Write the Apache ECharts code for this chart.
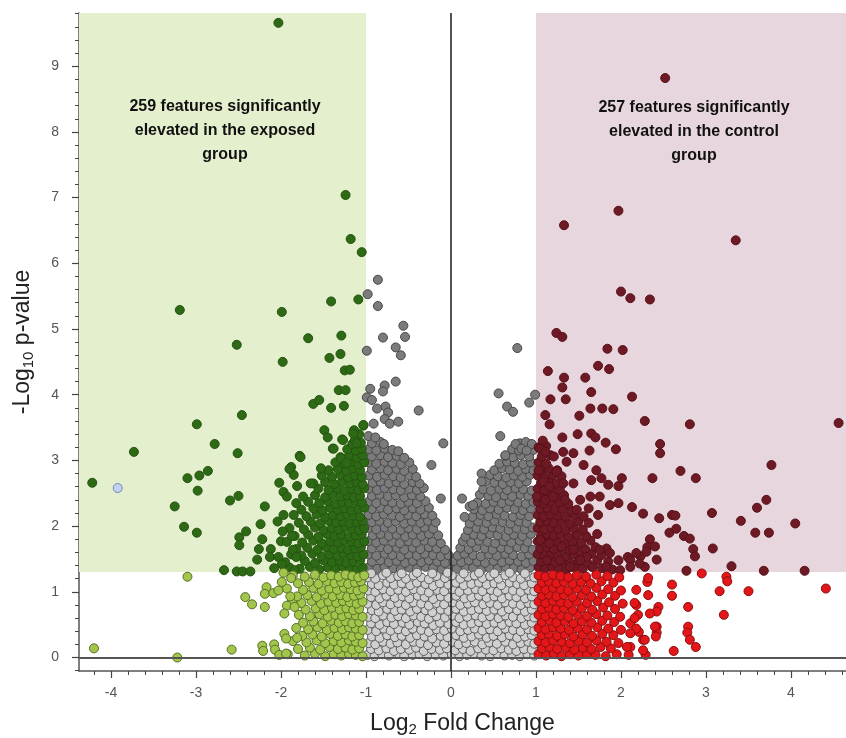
<!DOCTYPE html>
<html><head><meta charset="utf-8">
<script src="https://cdn.jsdelivr.net/npm/echarts@6/dist/echarts.min.js"></script>
<style>html,body{margin:0;padding:0;background:#fff}#c{width:846px;height:738px}</style>
</head><body><div id="c"></div>
<script>
// ---- axis ticks / thresholds ----
const xTicks=[-4,-3,-2,-1,0,1,2,3,4];
const yTicks=[0,1,2,3,4,5,6,7,8,9];
const fcThreshold=1, pThreshold=1.3;
const xMin=-4.376, xMax=4.647, yMin=-0.205, yMax=9.81;
const leftNote='259 features significantly\nelevated in the exposed\ngroup';
const rightNote='257 features significantly\nelevated in the control\ngroup';

// ---- data: [log2FC, -log10 p] ----
const darkGreenSparse=[[-2.03,9.66],[-1.24,7.04],[-1.18,6.37],[-1.05,6.17],[-3.19,5.29],[-1.99,5.26],[-1.41,5.42],[-1.09,5.45],[-2.52,4.76],[-1.68,4.86],[-1.29,4.9],[-1.98,4.5],[-1.43,4.56],[-1.3,4.62],[-1.25,4.37],[-1.19,4.38],[-1.32,4.07],[-1.24,4.07],[-1.62,3.86],[-1.55,3.92],[-1.41,3.8],[-1.26,3.83],[-2.46,3.69],[-1.49,3.46],[-1.45,3.35],[-1.14,3.46],[-1.03,3.53],[-1.13,3.31],[-1.28,3.32],[-1.39,3.18],[-1.78,3.07],[-4.22,2.66],[-3.73,3.13],[-2.51,3.11],[-3.1,2.73],[-2.96,2.77],[-2.86,2.84],[-2.98,2.54],[-3.25,2.3],[-3.14,1.99],[-2.99,1.9],[-2.6,2.39],[-2.5,2.46],[-2.49,1.83],[-2.41,1.92],[-2.49,1.71],[-2.67,1.33],[-2.52,1.31],[-2.45,1.31],[-2.36,1.31],[-2.19,2.3],[-2.24,2.03],[-2.22,1.8],[-2.26,1.65],[-2.28,1.49],[-2.02,2.66],[-1.97,2.52],[-1.93,2.45],[-1.88,2.9],[-1.85,2.78],[-1.81,2.61],[-1.82,2.35],[-2.04,2.07],[-1.97,2.17],[-1.98,1.92],[-1.93,1.76],[-1.87,1.85],[-2.12,1.65],[-2.13,1.53],[-2.03,1.53],[-1.99,1.42],[-2.08,1.36],[-1.86,1.64],[-1.82,1.53],[-1.84,1.33],[-2.78,3.25],[-2.99,3.55],[-1.77,3.05],[-1.9,2.87],[-1.65,2.65],[-1.53,2.88],[-1.38,3.18],[-1.29,3.03],[-1.23,2.96],[-1.15,3.41],[-1.11,3.26],[-1.03,3.54],[-1.27,3.31]];
const darkGreenDense=[[-1.9,1.37],[-1.78,1.35],[-1.66,1.38],[-1.55,1.34],[-1.45,1.37],[-1.36,1.35],[-1.27,1.38],[-1.19,1.36],[-1.11,1.34],[-1.04,1.37],
[-1.95,1.45],[-1.72,1.47],[-1.6,1.44],[-1.5,1.48],[-1.4,1.45],[-1.31,1.47],[-1.23,1.44],[-1.15,1.46],[-1.07,1.48],
[-1.88,1.57],[-1.76,1.55],[-1.63,1.58],[-1.52,1.54],[-1.43,1.57],[-1.34,1.55],[-1.26,1.58],[-1.18,1.56],[-1.1,1.54],[-1.03,1.57],
[-1.82,1.65],[-1.69,1.67],[-1.57,1.64],[-1.47,1.68],[-1.38,1.65],[-1.29,1.67],[-1.21,1.64],[-1.13,1.66],[-1.06,1.68],
[-2,1.77],[-1.75,1.75],[-1.62,1.78],[-1.52,1.74],[-1.42,1.77],[-1.33,1.75],[-1.25,1.78],[-1.17,1.76],[-1.09,1.74],[-1.02,1.77],
[-1.84,1.85],[-1.68,1.87],[-1.56,1.84],[-1.46,1.88],[-1.37,1.85],[-1.29,1.87],[-1.2,1.84],[-1.12,1.86],[-1.05,1.88],
[-1.9,1.97],[-1.73,1.95],[-1.6,1.98],[-1.5,1.94],[-1.4,1.97],[-1.32,1.95],[-1.24,1.98],[-1.16,1.96],[-1.08,1.94],[-1.02,1.97],
[-1.79,2.05],[-1.65,2.07],[-1.54,2.04],[-1.44,2.08],[-1.35,2.05],[-1.27,2.07],[-1.19,2.04],[-1.11,2.06],[-1.04,2.08],
[-1.85,2.17],[-1.7,2.15],[-1.58,2.18],[-1.48,2.14],[-1.39,2.17],[-1.3,2.15],[-1.22,2.18],[-1.14,2.16],[-1.07,2.14],
[-1.76,2.25],[-1.62,2.27],[-1.51,2.24],[-1.42,2.28],[-1.33,2.25],[-1.25,2.27],[-1.17,2.24],[-1.09,2.26],[-1.02,2.28],
[-1.68,2.37],[-1.55,2.35],[-1.45,2.38],[-1.36,2.34],[-1.28,2.37],[-1.2,2.35],[-1.12,2.38],[-1.05,2.36],
[-1.74,2.45],[-1.6,2.47],[-1.48,2.44],[-1.39,2.48],[-1.3,2.45],[-1.22,2.47],[-1.14,2.44],[-1.07,2.46],
[-1.56,2.57],[-1.44,2.55],[-1.34,2.58],[-1.25,2.54],[-1.17,2.57],[-1.09,2.55],[-1.02,2.58],
[-1.62,2.65],[-1.48,2.67],[-1.37,2.64],[-1.28,2.68],[-1.19,2.65],[-1.11,2.67],[-1.04,2.64],
[-1.52,2.77],[-1.4,2.75],[-1.3,2.78],[-1.21,2.74],[-1.13,2.77],[-1.05,2.75],
[-1.44,2.85],[-1.33,2.87],[-1.23,2.84],[-1.15,2.88],[-1.07,2.85],
[-1.36,2.97],[-1.26,2.95],[-1.17,2.98],[-1.09,2.94],[-1.02,2.97],
[-1.3,3.05],[-1.2,3.07],[-1.11,3.04],[-1.04,3.08],[-1.22,3.17],[-1.12,3.15],[-1.05,3.18],[-1.16,3.25],[-1.06,3.27],[-1.08,3.4]];
const lightGreenSparse=[[-4.2,.14],[-3.22,0],[-3.1,1.23],[-2.58,.12],[-2.42,.92],[-2.34,.81],[-2.19,.77],[-2.17,1.07],[-2.19,.97],[-2.09,.98],[-2.03,1.02],[-2.22,.18],[-2.21,.1],[-2.08,.2],[-2.07,.12],[-2.02,.04],[-1.94,.06],[-1.96,.36],[-1.94,.29],[-1.81,.3],[-1.99,1.15],[-1.97,1.29],[-1.88,1.21],[-1.89,.93],[-1.93,.79],[-1.96,.67],[-1.84,.77]];
const lightGreenDense=[[-1.92,.05],[-1.72,.03],[-1.6,.06],[-1.48,.02],[-1.38,.05],[-1.29,.03],[-1.2,.06],[-1.12,.04],[-1.04,.02],
[-1.8,.13],[-1.66,.15],[-1.54,.12],[-1.43,.16],[-1.33,.13],[-1.24,.15],[-1.16,.12],[-1.08,.14],
[-1.86,.25],[-1.7,.23],[-1.58,.26],[-1.48,.22],[-1.38,.25],[-1.29,.23],[-1.2,.26],[-1.12,.24],[-1.04,.22],
[-1.75,.33],[-1.63,.35],[-1.52,.32],[-1.42,.36],[-1.33,.33],[-1.24,.35],[-1.16,.32],[-1.08,.34],
[-1.82,.45],[-1.68,.43],[-1.57,.46],[-1.46,.42],[-1.37,.45],[-1.28,.43],[-1.2,.46],[-1.12,.44],[-1.04,.42],
[-1.74,.53],[-1.62,.55],[-1.51,.52],[-1.41,.56],[-1.32,.53],[-1.24,.55],[-1.16,.52],[-1.08,.54],
[-1.79,.65],[-1.66,.63],[-1.55,.66],[-1.45,.62],[-1.36,.65],[-1.28,.63],[-1.2,.66],[-1.12,.64],[-1.04,.62],
[-1.71,.73],[-1.59,.75],[-1.49,.72],[-1.4,.76],[-1.31,.73],[-1.23,.75],[-1.15,.72],[-1.08,.74],
[-1.87,.85],[-1.76,.83],[-1.64,.86],[-1.53,.82],[-1.44,.85],[-1.35,.83],[-1.27,.86],[-1.19,.84],[-1.11,.82],[-1.04,.85],
[-1.81,.93],[-1.69,.95],[-1.58,.92],[-1.48,.96],[-1.39,.93],[-1.3,.95],[-1.22,.92],[-1.14,.94],[-1.07,.96],
[-1.93,1.05],[-1.74,1.03],[-1.62,1.06],[-1.52,1.02],[-1.43,1.05],[-1.34,1.03],[-1.26,1.06],[-1.18,1.04],[-1.1,1.02],[-1.03,1.05],
[-1.8,1.13],[-1.67,1.15],[-1.56,1.12],[-1.46,1.16],[-1.37,1.13],[-1.29,1.15],[-1.21,1.12],[-1.13,1.14],[-1.06,1.16],
[-1.86,1.25],[-1.72,1.23],[-1.6,1.26],[-1.5,1.22],[-1.41,1.25],[-1.32,1.23],[-1.24,1.26],[-1.16,1.24],[-1.09,1.22],[-1.02,1.25]];
const darkGreySparse=[[-.86,5.75],[-.98,5.53],[-.86,5.35],[-.56,5.05],[-.54,4.88],[-.8,4.87],[-.99,4.67],[-.65,4.72],[-.59,4.6],[-.65,4.2],[-.78,4.14],[-.8,4.05],[-.95,4.09],[-.99,3.96],[-.93,3.92],[-.87,3.79],[-.77,3.82],[-.74,3.73],[-.78,3.63],[-.72,3.56],[-.62,3.59],[-.38,3.76],[-.91,3.56],[-.09,3.26],[-.23,2.93],[-.12,2.42],[.78,4.71],[.56,4.02],[.99,4],[.92,3.88],[.66,3.82],[.73,3.74],[.58,3.37],[.76,3.25],[.83,3.18],[.89,3.15],[.64,3.08],[.36,2.8],[.36,2.68],[.13,2.42],[.16,2.14],[.22,2.3],[.26,2.32]];
const darkGreyDense=[[-.97,1.37],[-.87,1.35],[-.78,1.38],[-.68,1.36],[-.59,1.34],[-.49,1.37],[-.4,1.35],[-.3,1.38],[-.21,1.36],[-.11,1.34],[-.02,1.37],[.07,1.35],[.17,1.38],[.26,1.36],[.36,1.34],[.45,1.37],[.55,1.35],[.64,1.38],[.74,1.36],[.83,1.34],[.93,1.37],
[-.93,1.46],[-.83,1.48],[-.73,1.45],[-.64,1.47],[-.54,1.44],[-.45,1.47],[-.35,1.45],[-.26,1.48],[-.16,1.46],[-.07,1.44],[.03,1.47],[.12,1.45],[.21,1.48],[.31,1.46],[.4,1.44],[.5,1.47],[.6,1.45],[.69,1.48],[.79,1.46],[.88,1.44],[.97,1.47],
[-.97,1.57],[-.88,1.55],[-.78,1.58],[-.69,1.56],[-.59,1.54],[-.5,1.57],[-.4,1.55],[-.31,1.58],[-.21,1.56],[-.12,1.54],[-.03,1.56],[.08,1.55],[.16,1.58],[.26,1.56],[.35,1.54],[.45,1.57],[.54,1.55],[.64,1.58],[.73,1.56],[.83,1.54],[.92,1.57],
[-.93,1.66],[-.83,1.68],[-.74,1.65],[-.64,1.67],[-.55,1.64],[-.45,1.67],[-.36,1.65],[-.26,1.68],[-.17,1.66],[-.07,1.64],[.11,1.67],[.21,1.65],[.3,1.68],[.4,1.66],[.49,1.64],[.59,1.67],[.68,1.65],[.78,1.68],[.87,1.66],[.96,1.64],
[-.97,1.77],[-.88,1.75],[-.79,1.78],[-.69,1.76],[-.6,1.74],[-.5,1.77],[-.41,1.75],[-.31,1.78],[-.22,1.76],[-.12,1.74],[.14,1.77],[.24,1.75],[.33,1.78],[.43,1.76],[.52,1.74],[.62,1.77],[.71,1.75],[.81,1.78],[.9,1.76],
[-.92,1.86],[-.83,1.88],[-.73,1.85],[-.64,1.87],[-.54,1.84],[-.45,1.87],[-.35,1.85],[-.26,1.88],[-.15,1.86],[.17,1.84],[.27,1.87],[.36,1.85],[.46,1.88],[.55,1.86],[.65,1.84],[.74,1.87],[.84,1.85],[.94,1.88],
[-.97,1.97],[-.88,1.95],[-.78,1.98],[-.69,1.96],[-.59,1.94],[-.5,1.97],[-.4,1.95],[-.31,1.98],[-.21,1.96],[.2,1.94],[.3,1.97],[.39,1.95],[.49,1.98],[.58,1.96],[.68,1.94],[.77,1.97],[.87,1.95],[.96,1.98],
[-.93,2.06],[-.84,2.08],[-.74,2.05],[-.65,2.07],[-.55,2.04],[-.46,2.07],[-.36,2.05],[-.27,2.08],[-.18,2.06],[.22,2.04],[.32,2.07],[.42,2.05],[.51,2.08],[.61,2.06],[.7,2.04],[.8,2.07],[.89,2.05],
[-.97,2.17],[-.88,2.15],[-.79,2.18],[-.69,2.16],[-.6,2.14],[-.5,2.17],[-.41,2.15],[-.31,2.18],[-.22,2.16],[.25,2.14],[.35,2.17],[.44,2.15],[.54,2.18],[.63,2.16],[.73,2.14],[.82,2.17],[.92,2.15],
[-.93,2.26],[-.83,2.28],[-.74,2.25],[-.64,2.27],[-.55,2.24],[-.45,2.27],[-.36,2.25],[-.26,2.28],[.27,2.26],[.37,2.24],[.46,2.27],[.56,2.25],[.66,2.28],[.75,2.26],[.85,2.24],[.94,2.27],
[-.97,2.37],[-.88,2.35],[-.78,2.38],[-.69,2.36],[-.59,2.34],[-.5,2.37],[-.4,2.35],[-.3,2.38],[.31,2.36],[.41,2.34],[.5,2.37],[.6,2.35],[.69,2.38],[.79,2.36],[.88,2.34],[.97,2.37],
[-.93,2.46],[-.84,2.48],[-.74,2.45],[-.65,2.47],[-.55,2.44],[-.46,2.47],[-.36,2.45],[.34,2.48],[.44,2.46],[.53,2.44],[.63,2.47],[.72,2.45],[.82,2.48],[.91,2.46],
[-.97,2.57],[-.87,2.55],[-.78,2.58],[-.68,2.56],[-.59,2.54],[-.49,2.57],[-.4,2.55],[-.32,2.58],[.38,2.56],[.47,2.54],[.57,2.57],[.66,2.55],[.76,2.58],[.85,2.56],[.95,2.54],
[-.92,2.66],[-.83,2.68],[-.73,2.65],[-.64,2.67],[-.55,2.64],[-.45,2.67],[-.37,2.65],[.42,2.68],[.51,2.66],[.61,2.64],[.7,2.67],[.8,2.65],[.89,2.68],
[-.97,2.77],[-.87,2.75],[-.78,2.78],[-.68,2.76],[-.59,2.74],[-.49,2.77],[-.41,2.75],[.46,2.78],[.55,2.76],[.65,2.74],[.74,2.77],[.84,2.75],[.93,2.78],
[-.93,2.86],[-.83,2.88],[-.74,2.85],[-.64,2.87],[-.55,2.84],[-.45,2.87],[.51,2.85],[.6,2.88],[.69,2.86],[.79,2.84],[.88,2.87],[.97,2.85],
[-.97,2.97],[-.88,2.95],[-.78,2.98],[-.69,2.96],[-.59,2.94],[-.49,2.97],[.57,2.95],[.66,2.98],[.75,2.96],[.85,2.94],[.94,2.97],
[-.93,3.06],[-.83,3.08],[-.74,3.05],[-.64,3.07],[-.55,3.04],[.64,3.07],[.73,3.05],[.82,3.08],[.92,3.06],
[-.97,3.17],[-.88,3.15],[-.78,3.18],[-.69,3.16],[-.62,3.14],[.72,3.17],[.8,3.15],[.89,3.18],[.97,3.16],
[-.93,3.26],[-.83,3.28],[-.79,3.25],[.81,3.26],[.88,3.28],[.95,3.25],[-.97,3.37],[-.89,3.35]];
const lightGrey=[[-.98,.04],[-.9,.02],[-.81,.05],[-.73,.03],[-.62,.06],[-.55,.02],[-.45,.04],[-.37,.05],[-.28,.02],[-.18,.04],[-.09,.03],[.01,.05],[.1,.02],[.19,.04],[.27,.06],[.36,.03],[.46,.02],[.55,.05],[.63,.03],[.72,.04],[.81,.02],[.9,.05],[.98,.03],
[-.94,.13],[-.85,.11],[-.76,.14],[-.67,.1],[-.59,.13],[-.49,.12],[-.41,.15],[-.32,.1],[-.23,.13],[-.13,.12],[-.05,.14],[.05,.11],[.14,.13],[.23,.1],[.32,.14],[.41,.12],[.5,.11],[.59,.14],[.68,.12],[.77,.1],[.86,.13],[.95,.12],
[-.97,.22],[-.89,.2],[-.8,.24],[-.71,.21],[-.63,.23],[-.53,.2],[-.44,.24],[-.36,.22],[-.27,.19],[-.17,.23],[-.08,.21],[.02,.24],[.09,.2],[.18,.22],[.28,.24],[.37,.2],[.45,.23],[.54,.21],[.64,.24],[.73,.2],[.82,.22],[.91,.24],[.98,.21],
[-.93,.32],[-.84,.3],[-.75,.34],[-.66,.31],[-.58,.33],[-.48,.3],[-.4,.34],[-.31,.32],[-.22,.29],[-.12,.33],[-.04,.31],[.06,.34],[.15,.3],[.24,.32],[.33,.35],[.42,.3],[.5,.33],[.6,.31],[.69,.34],[.78,.3],[.87,.32],[.95,.34],
[-.98,.42],[-.88,.4],[-.79,.44],[-.71,.41],[-.62,.43],[-.53,.4],[-.45,.44],[-.35,.42],[-.26,.39],[-.17,.43],[-.08,.41],[.01,.44],[.11,.4],[.2,.42],[.28,.44],[.37,.41],[.46,.43],[.55,.4],[.64,.44],[.73,.42],[.82,.4],[.91,.43],[.98,.41],
[-.94,.52],[-.84,.5],[-.75,.54],[-.67,.51],[-.57,.53],[-.49,.5],[-.39,.54],[-.31,.52],[-.21,.49],[-.13,.53],[-.03,.51],[.06,.54],[.15,.5],[.24,.52],[.33,.54],[.42,.51],[.51,.53],[.6,.5],[.69,.54],[.77,.52],[.87,.5],[.95,.53],
[-.97,.62],[-.89,.6],[-.8,.64],[-.7,.61],[-.62,.63],[-.53,.6],[-.44,.64],[-.35,.62],[-.26,.59],[-.17,.63],[-.07,.61],[.02,.64],[.1,.6],[.19,.62],[.29,.64],[.37,.61],[.46,.63],[.56,.6],[.64,.64],[.73,.62],[.83,.6],[.91,.63],[.98,.61],
[-.93,.72],[-.85,.7],[-.75,.74],[-.66,.71],[-.58,.73],[-.48,.7],[-.4,.74],[-.3,.72],[-.22,.69],[-.12,.73],[-.03,.71],[.06,.74],[.15,.7],[.24,.72],[.33,.74],[.42,.71],[.51,.73],[.6,.7],[.68,.74],[.78,.72],[.87,.7],[.95,.73],
[-.98,.82],[-.88,.8],[-.8,.84],[-.71,.81],[-.62,.83],[-.53,.8],[-.44,.84],[-.35,.82],[-.26,.79],[-.17,.83],[-.08,.81],[.02,.84],[.11,.8],[.2,.82],[.28,.84],[.38,.81],[.46,.83],[.55,.8],[.64,.84],[.73,.82],[.82,.8],[.91,.83],[.98,.81],
[-.94,.92],[-.84,.9],[-.76,.94],[-.66,.91],[-.57,.93],[-.49,.9],[-.39,.94],[-.31,.92],[-.21,.89],[-.12,.93],[-.03,.91],[.06,.94],[.16,.9],[.24,.92],[.33,.94],[.42,.91],[.51,.93],[.6,.9],[.69,.94],[.77,.92],[.87,.9],[.95,.93],
[-.97,1.02],[-.89,1],[-.8,1.04],[-.71,1.01],[-.62,1.03],[-.53,1],[-.44,1.04],[-.35,1.02],[-.26,.99],[-.16,1.03],[-.08,1.01],[.02,1.04],[.1,1],[.2,1.02],[.29,1.04],[.37,1.01],[.47,1.03],[.55,1],[.64,1.04],[.73,1.02],[.82,1],[.91,1.03],[.98,1.01],
[-.93,1.12],[-.85,1.1],[-.75,1.14],[-.67,1.11],[-.58,1.13],[-.48,1.1],[-.4,1.14],[-.3,1.12],[-.21,1.09],[-.13,1.13],[-.03,1.11],[.06,1.14],[.15,1.1],[.24,1.12],[.33,1.14],[.42,1.11],[.51,1.13],[.59,1.1],[.69,1.14],[.78,1.12],[.86,1.1],[.95,1.13],
[-.98,1.22],[-.89,1.2],[-.8,1.25],[-.71,1.21],[-.62,1.24],[-.53,1.2],[-.44,1.25],[-.35,1.22],[-.26,1.19],[-.17,1.24],[-.07,1.21],[.01,1.25],[.11,1.2],[.2,1.23],[.28,1.25],[.37,1.21],[.46,1.24],[.56,1.2],[.64,1.25],[.73,1.22],[.82,1.2],[.91,1.24],[.98,1.22],
[-.94,1.28],[-.76,1.29],[-.58,1.28],[-.4,1.29],[-.22,1.28],[-.04,1.29],[.15,1.28],[.33,1.29],[.51,1.28],[.69,1.29],[.87,1.28]];
const darkRedSparse=[[2.52,8.82],[1.97,6.8],[1.33,6.58],[3.35,6.35],[2,5.57],[2.11,5.47],[2.34,5.45],[1.24,4.94],[1.31,4.88],[1.84,4.7],[2.02,4.68],[1.73,4.44],[1.86,4.39],[1.14,4.36],[1.33,4.26],[1.58,4.26],[1.31,4.11],[1.65,4.04],[2.13,3.97],[1.17,3.93],[1.35,3.93],[1.64,3.79],[1.78,3.79],[1.91,3.78],[4.56,3.57],[3.77,2.93],[3.71,2.4],[3.6,2.28],[3.41,2.08],[4.05,2.04],[3.58,1.9],[3.74,1.9],[3.07,2.2],[3.08,1.66],[3.3,1.39],[3.68,1.32],[4.16,1.32],[2.77,1.32],[2.46,3.25],[2.46,3.11],[2.7,2.84],[2.88,2.73],[2.37,2.73],[2.6,2.17],[2.64,2.16],[2.57,1.9],[2.65,1.96],[2.74,1.85],[2.81,1.81],[2.85,1.65],[2.87,1.54],[2.45,2.12],[2.26,2.19],[2.13,2.29],[2.34,1.8],[2.31,1.68],[2.42,1.49],[2.23,1.54],[2.28,1.38],[2.08,1.53],[1.11,3.69],[1.16,3.55],[1.51,3.68],[2.28,3.6],[2.81,3.55],[1.31,3.35],[1.49,3.4],[1.65,3.41],[1.7,3.35],[1.82,3.27],[1.94,3.17],[1.63,3.15],[1.05,3.18],[1.11,3.13],[1.21,3.06],[1.32,3.13],[1.44,3.11],[1.56,2.93],[1.36,2.98],[1.71,2.85],[1.77,2.73],[1.65,2.7],[1.85,2.63],[1.97,2.61],[2.01,2.73],[1.03,2.85],[1.24,2.83],[1.09,2.68],[1.16,2.6],[1.32,2.65],[1.44,2.65],[1.01,2.45],[1.11,2.4],[1.2,2.45],[1.34,2.4],[1.52,2.4],[1.64,2.45],[1.75,2.45],[1.48,2.25],[1.62,2.27],[1.73,2.17],[1.87,2.32],[1.97,2.35],[2.4,1.69],[2.3,1.61],[2.18,1.59],[2.11,1.48],[1.97,1.48],[1.87,1.59],[1.75,1.64],[1.6,1.53],[1.44,1.64],[1.3,1.69],[1.16,1.74],[1.05,1.79],[1.13,1.48],[1.28,1.48],[1.4,1.38],[1.52,1.48],[1.67,1.38],[1.83,1.38],[1.99,1.33],[2.11,1.38],[2.22,1.43]];
const darkRedDense=[[1.03,1.37],[1.11,1.35],[1.19,1.38],[1.27,1.36],[1.36,1.34],[1.45,1.37],[1.55,1.35],[1.66,1.38],[1.78,1.36],[1.9,1.34],
[1.06,1.46],[1.14,1.48],[1.22,1.45],[1.31,1.47],[1.4,1.44],[1.5,1.47],[1.6,1.45],[1.72,1.48],[1.85,1.46],
[1.02,1.57],[1.1,1.55],[1.18,1.58],[1.26,1.56],[1.35,1.54],[1.44,1.57],[1.54,1.55],[1.65,1.58],[1.77,1.56],
[1.05,1.66],[1.13,1.68],[1.21,1.65],[1.3,1.67],[1.39,1.64],[1.48,1.67],[1.58,1.65],[1.7,1.68],[1.83,1.66],
[1.02,1.77],[1.09,1.75],[1.17,1.78],[1.25,1.76],[1.34,1.74],[1.43,1.77],[1.53,1.75],[1.64,1.78],
[1.06,1.86],[1.13,1.88],[1.21,1.85],[1.29,1.87],[1.38,1.84],[1.48,1.87],[1.59,1.85],[1.72,1.88],
[1.02,1.97],[1.1,1.95],[1.18,1.98],[1.26,1.96],[1.35,1.94],[1.44,1.97],[1.55,1.95],
[1.05,2.06],[1.13,2.08],[1.21,2.05],[1.3,2.07],[1.4,2.04],[1.5,2.07],[1.62,2.05],
[1.02,2.17],[1.09,2.15],[1.17,2.18],[1.26,2.16],[1.35,2.14],[1.45,2.17],[1.56,2.15],
[1.05,2.26],[1.13,2.28],[1.22,2.25],[1.31,2.27],[1.41,2.24],
[1.02,2.37],[1.09,2.35],[1.18,2.38],[1.27,2.36],[1.38,2.34],
[1.05,2.46],[1.14,2.48],[1.23,2.45],[1.33,2.47],
[1.02,2.57],[1.1,2.55],[1.19,2.58],[1.28,2.56],
[1.06,2.66],[1.15,2.68],[1.24,2.65],
[1.02,2.77],[1.1,2.75],[1.2,2.78],[1.3,2.76],
[1.06,2.86],[1.15,2.88],[1.25,2.85],
[1.03,2.97],[1.12,2.95],[1.07,3.06],[1.17,3.08],[1.03,3.2],[1.12,3.22],[1.08,3.3]];
const redSparse=[[4.41,1.05],[3.5,1.01],[3.16,1.01],[3.24,1.23],[3.25,1.16],[3.21,.65],[2.6,1.11],[2.6,.94],[2.79,.77],[2.79,.47],[2.78,.38],[2.81,.27],[2.88,.16],[2.62,.1],[2.95,1.28],[2.44,.77],[2.42,.7],[2.34,.67],[2.42,.47],[2.42,.38],[2.26,.27],[2.29,.04],[2.26,.11],[2.11,.16],[2.09,.04],[2.32,.95],[2.31,1.15],[2.18,1.03],[2.18,.8],[2.2,.65],[2.11,.52],[2.21,.39],[2.32,1.21],[2.4,.47],[2.41,.32],[2.28,.27],[2.16,.83],[2.16,.6],[2.18,.44],[2.11,.37],[2.07,.16]];
const redDense=[[1.03,.05],[1.12,.03],[1.21,.06],[1.3,.02],[1.4,.05],[1.5,.03],[1.6,.06],[1.7,.04],[1.82,.02],[1.95,.05],
[1.07,.14],[1.16,.16],[1.25,.13],[1.35,.15],[1.45,.12],[1.55,.15],[1.65,.13],[1.76,.16],[1.88,.14],
[1.03,.25],[1.11,.23],[1.2,.26],[1.3,.24],[1.4,.22],[1.5,.25],[1.6,.23],[1.71,.26],[1.83,.24],[1.97,.22],
[1.07,.34],[1.15,.36],[1.25,.33],[1.34,.35],[1.44,.32],[1.55,.35],[1.66,.33],[1.78,.36],[1.91,.34],
[1.03,.45],[1.11,.43],[1.2,.46],[1.29,.44],[1.39,.42],[1.49,.45],[1.6,.43],[1.72,.46],[1.85,.44],[2,.42],
[1.07,.54],[1.16,.56],[1.24,.53],[1.34,.55],[1.44,.52],[1.54,.55],[1.65,.53],[1.78,.56],[1.92,.54],
[1.03,.65],[1.11,.63],[1.2,.66],[1.29,.64],[1.38,.62],[1.49,.65],[1.6,.63],[1.71,.66],[1.84,.64],[1.99,.62],
[1.07,.74],[1.15,.76],[1.24,.73],[1.33,.75],[1.43,.72],[1.54,.75],[1.66,.73],[1.79,.76],[1.93,.74],
[1.03,.85],[1.11,.83],[1.2,.86],[1.29,.84],[1.38,.82],[1.48,.85],[1.6,.83],[1.72,.86],[1.86,.84],[2.02,.82],
[1.07,.94],[1.15,.96],[1.24,.93],[1.33,.95],[1.43,.92],[1.54,.95],[1.65,.93],[1.78,.96],[1.93,.94],
[1.03,1.05],[1.11,1.03],[1.2,1.06],[1.29,1.04],[1.38,1.02],[1.48,1.05],[1.59,1.03],[1.71,1.06],[1.85,1.04],[2,1.02],
[1.07,1.14],[1.15,1.16],[1.24,1.13],[1.33,1.15],[1.43,1.12],[1.53,1.15],[1.64,1.13],[1.77,1.16],[1.91,1.14],
[1.03,1.25],[1.11,1.23],[1.2,1.26],[1.29,1.24],[1.38,1.22],[1.48,1.25],[1.59,1.23],[1.71,1.26],[1.84,1.24],[1.98,1.22]];
const bluePoint=[[-3.92,2.58]];

// ---- decoration: minor tick positions every 0.2 ----
const xMinor=[], yMinor=[];
for(let i=-21;i<=23;i++) xMinor.push(+(i*0.2).toFixed(1));
for(let i=-1;i<=49;i++) yMinor.push(+(i*0.2).toFixed(1));

const FONT='"Liberation Sans", Arial, sans-serif';
function pts(name,data,fill,stroke){
  return {type:'scatter',name:name,data:data,symbol:'circle',symbolSize:9,silent:true,z:3,
    itemStyle:{color:fill,borderColor:stroke,borderWidth:1,opacity:1},emphasis:{disabled:true}};
}
const chart=echarts.init(document.getElementById('c'),null,{renderer:'canvas'});
chart.setOption({
  animation:false,
  backgroundColor:'#ffffff',
  grid:{left:79,top:13,width:767,height:658,containLabel:false,outerBoundsMode:'none'},
  xAxis:[{
    type:'value',min:xMin,max:xMax,splitLine:{show:false},
    axisLine:{onZero:false,lineStyle:{color:'#555',width:1.5}},
    axisTick:{customValues:xTicks,length:7,lineStyle:{color:'#444',width:1.2}},
    axisLabel:{customValues:xTicks,color:'#555',fontSize:14,margin:15,fontFamily:FONT},
    name:'{a|Log}{s|2}{a| Fold Change}',nameLocation:'middle',nameGap:39,
    nameTextStyle:{rich:{a:{fontSize:23,color:'#222',fontFamily:FONT},s:{fontSize:15,color:'#222',fontFamily:FONT,padding:[12,0,0,0]}}}
  },{
    type:'value',min:xMin,max:xMax,position:'bottom',splitLine:{show:false},
    axisLine:{show:false,onZero:false},axisLabel:{show:false},
    axisTick:{customValues:xMinor,length:4,lineStyle:{color:'#444',width:1}}
  }],
  yAxis:[{
    type:'value',min:yMin,max:yMax,splitLine:{show:false},
    axisLine:{onZero:false,lineStyle:{color:'#555',width:1.5}},
    axisTick:{customValues:yTicks,length:7,lineStyle:{color:'#444',width:1.2}},
    axisLabel:{customValues:yTicks,color:'#555',fontSize:14,margin:20,fontFamily:FONT},
    name:'{a|-Log}{s|10}{a| p-value}',nameLocation:'middle',nameGap:43,nameRotate:90,
    nameTextStyle:{rich:{a:{fontSize:23,color:'#222',fontFamily:FONT},s:{fontSize:15,color:'#222',fontFamily:FONT,padding:[12,0,0,0]}}}
  },{
    type:'value',min:yMin,max:yMax,position:'left',splitLine:{show:false},
    axisLine:{show:false,onZero:false},axisLabel:{show:false},
    axisTick:{customValues:yMinor,length:4,lineStyle:{color:'#444',width:1}}
  }],
  graphic:[
    {type:'text',x:225,y:95,silent:true,z:20,style:{text:leftNote,font:'bold 16px '+FONT,fill:'#111',align:'center',verticalAlign:'top',lineHeight:24}},
    {type:'text',x:694,y:96,silent:true,z:20,style:{text:rightNote,font:'bold 16px '+FONT,fill:'#111',align:'center',verticalAlign:'top',lineHeight:24}}
  ],
  series:[
    {type:'scatter',data:[],z:1,silent:true,
     markArea:{silent:true,data:[
       [{xAxis:xMin,yAxis:pThreshold,itemStyle:{color:'#e4efce'}},{xAxis:-fcThreshold,yAxis:yMax}],
       [{xAxis:fcThreshold,yAxis:pThreshold,itemStyle:{color:'#e8d6de'}},{xAxis:xMax,yAxis:yMax}]
     ]}},
    pts('darkGrey',darkGreyDense.concat(darkGreySparse),'#7b7b7b','#474747'),
    pts('lightGrey',lightGrey,'#d0d0d0','#5c5c5c'),
    pts('darkGreen',darkGreenDense.concat(darkGreenSparse),'#2e6a15','#245410'),
    pts('lightGreen',lightGreenDense.concat(lightGreenSparse),'#a2c64c','#566f24'),
    pts('darkRed',darkRedDense.concat(darkRedSparse),'#6e1a25','#581019'),
    pts('red',redDense.concat(redSparse),'#e3171a','#8c0d0d'),
    pts('blue',bluePoint,'#c5d2ee','#6b88c6'),
    {type:'scatter',data:[],z:10,silent:true,
     markLine:{silent:true,symbol:'none',label:{show:false},animation:false,data:[
       {xAxis:0,lineStyle:{color:'#1a1a1a',width:1.5,type:'solid'}},
       {yAxis:0,lineStyle:{color:'#555',width:2,type:'solid'}}
     ]}}
  ]
});
</script></body></html>
